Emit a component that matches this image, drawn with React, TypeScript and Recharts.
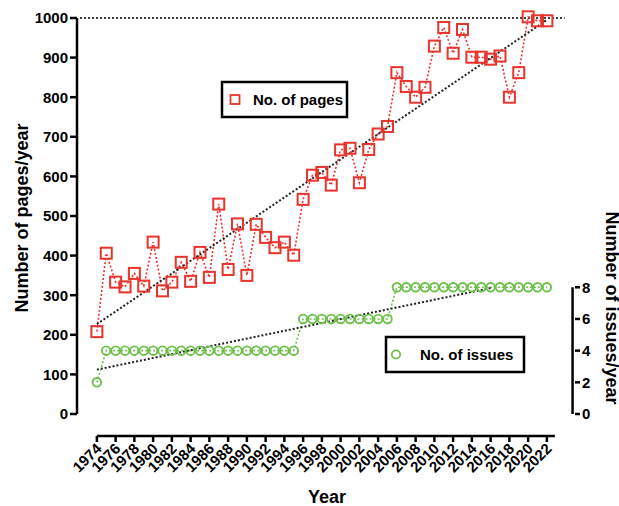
import React from 'react';
import { ComposedChart, Line, XAxis, YAxis, ReferenceLine } from 'recharts';

const years = [1974, 1975, 1976, 1977, 1978, 1979, 1980, 1981, 1982, 1983, 1984, 1985, 1986, 1987, 1988, 1989, 1990, 1991, 1992, 1993, 1994, 1995, 1996, 1997, 1998, 1999, 2000, 2001, 2002, 2003, 2004, 2005, 2006, 2007, 2008, 2009, 2010, 2011, 2012, 2013, 2014, 2015, 2016, 2017, 2018, 2019, 2020, 2021, 2022];
const pages = [208, 406, 333, 321, 355, 323, 434, 311, 333, 383, 335, 408, 345, 530, 365, 480, 350, 479, 446, 420, 434, 401, 542, 603, 610, 578, 667, 671, 584, 668, 707, 726, 862, 827, 800, 825, 929, 976, 911, 971, 901, 901, 896, 904, 800, 862, 1003, 993, 993];
const issues = [2, 4, 4, 4, 4, 4, 4, 4, 4, 4, 4, 4, 4, 4, 4, 4, 4, 4, 4, 4, 4, 4, 6, 6, 6, 6, 6, 6, 6, 6, 6, 6, 8, 8, 8, 8, 8, 8, 8, 8, 8, 8, 8, 8, 8, 8, 8, 8, 8];
const xTicks = [1974, 1976, 1978, 1980, 1982, 1984, 1986, 1988, 1990, 1992, 1994, 1996, 1998, 2000, 2002, 2004, 2006, 2008, 2010, 2012, 2014, 2016, 2018, 2020, 2022];
const pageTicks = [0, 100, 200, 300, 400, 500, 600, 700, 800, 900, 1000];
const issueTicks = [0, 2, 4, 6, 8];
const pagesTrendYears = [1974, 2022];
const pagesTrendValues = [227, 995];
const issuesTrendYears = [1974, 2016];
const issuesTrendValues = [2.8, 7.95];
const pagesLimit = 1000;

const pageRows = years.map((year, i) => ({ year, v: pages[i] }));
const issueRows = years.map((year, i) => ({ year, v: issues[i] }));
const pagesTrendRows = pagesTrendYears.map((year, i) => ({ year, v: pagesTrendValues[i] }));
const issuesTrendRows = issuesTrendYears.map((year, i) => ({ year, v: issuesTrendValues[i] }));

const FONT = '"Liberation Sans", Arial, Helvetica, sans-serif';
const RED = '#e8342c';
const GREEN = '#6cc04a';

const X_DOMAIN: [number, number] = [1971.88, 2024.74];
const LEFT_DOMAIN: [number, number] = [-55.56, 1025.25];
const RIGHT_DOMAIN: [number, number] = [-1.389, 25.63];

const SquareDot = (props: any) => {
  const { cx, cy, index } = props;
  if (cx == null || cy == null) return <g key={`sq-${index}`} />;
  return (
    <rect key={`sq-${index}`} x={cx - 5.5} y={cy - 5.5} width={11} height={11} fill="none" stroke={RED} strokeWidth={2} />
  );
};

const CircleDot = (props: any) => {
  const { cx, cy, index } = props;
  if (cx == null || cy == null) return <g key={`ci-${index}`} />;
  return <circle key={`ci-${index}`} cx={cx} cy={cy} r={4.3} fill="none" stroke={GREEN} strokeWidth={1.9} />;
};

const XTick = (props: any) => {
  const { x, y, payload } = props;
  return (
    <text
      x={x}
      y={y}
      dy={8}
      textAnchor="end"
      transform={`rotate(-45 ${x} ${y})`}
      fontSize={15}
      fontWeight="bold"
      fontFamily={FONT}
      fill="#000"
    >
      {payload.value}
    </text>
  );
};

export default function App() {
  return (
    <div style={{ position: 'absolute', left: 0, top: 0, width: 619, height: 506, background: '#fff' }}>
      <ComposedChart width={619} height={506} margin={{ top: 8, right: 14, bottom: 10, left: 17 }}>
        <XAxis
          type="number"
          dataKey="year"
          domain={X_DOMAIN}
          ticks={xTicks}
          allowDecimals={false}
          interval={0}
          axisLine={false}
          tickLine={{ stroke: '#000', strokeWidth: 2.5 }}
          tickSize={6}
          tickMargin={2}
          height={60}
          tick={<XTick />}
        />
        <YAxis
          yAxisId="left"
          type="number"
          domain={LEFT_DOMAIN}
          ticks={pageTicks}
          interval={0}
          width={60}
          axisLine={false}
          tickLine={{ stroke: '#000', strokeWidth: 2.5 }}
          tickSize={7}
          tickMargin={2}
          tick={{ fontSize: 15, fontWeight: 'bold', fill: '#000', fontFamily: FONT }}
        />
        <YAxis
          yAxisId="right"
          orientation="right"
          type="number"
          domain={RIGHT_DOMAIN}
          ticks={issueTicks}
          interval={0}
          width={30}
          axisLine={false}
          tickLine={{ stroke: '#000', strokeWidth: 2.5 }}
          tickSize={5}
          tickMargin={2}
          tick={{ fontSize: 15, fontWeight: 'bold', fill: '#000', fontFamily: FONT }}
        />
        <ReferenceLine
          yAxisId="left"
          segment={[{ x: X_DOMAIN[0], y: 0 }, { x: X_DOMAIN[0], y: 1000 }]}
          stroke="#000"
          strokeWidth={2.5}
          ifOverflow="visible"
        />
        <ReferenceLine
          yAxisId="left"
          segment={[{ x: 1974, y: LEFT_DOMAIN[0] }, { x: 2022.85, y: LEFT_DOMAIN[0] }]}
          stroke="#000"
          strokeWidth={2.5}
          ifOverflow="visible"
        />
        <ReferenceLine
          yAxisId="right"
          segment={[{ x: X_DOMAIN[1], y: 0 }, { x: X_DOMAIN[1], y: 8 }]}
          stroke="#000"
          strokeWidth={2.5}
          ifOverflow="visible"
        />
        <ReferenceLine
          yAxisId="left"
          segment={[{ x: 1972.2, y: pagesLimit }, { x: 2023.9, y: pagesLimit }]}
          stroke="#000"
          strokeWidth={1.5}
          strokeDasharray="2 2"
          ifOverflow="visible"
        />
        <Line
          yAxisId="right"
          data={issueRows}
          dataKey="v"
          type="linear"
          stroke={GREEN}
          strokeWidth={1.6}
          strokeDasharray="2 2"
          dot={<CircleDot />}
          isAnimationActive={false}
        />
        <Line
          yAxisId="left"
          data={pageRows}
          dataKey="v"
          type="linear"
          stroke={RED}
          strokeWidth={1.6}
          strokeDasharray="2 2"
          dot={<SquareDot />}
          isAnimationActive={false}
        />
        <Line
          yAxisId="left"
          data={pagesTrendRows}
          dataKey="v"
          type="linear"
          stroke="#222"
          strokeWidth={2}
          strokeDasharray="2 2"
          dot={false}
          isAnimationActive={false}
        />
        <Line
          yAxisId="right"
          data={issuesTrendRows}
          dataKey="v"
          type="linear"
          stroke="#222"
          strokeWidth={2}
          strokeDasharray="2 2"
          dot={false}
          isAnimationActive={false}
        />
      </ComposedChart>
      <svg width={619} height={506} style={{ position: 'absolute', left: 0, top: 0, pointerEvents: 'none' }}>
        <text
          transform="translate(28 218) rotate(-90)"
          textAnchor="middle"
          fontSize={18}
          fontWeight="bold"
          fontFamily={FONT}
          fill="#000"
        >
          Number of pages/year
        </text>
        <text
          transform="translate(606 308) rotate(90)"
          textAnchor="middle"
          fontSize={18}
          fontWeight="bold"
          fontFamily={FONT}
          fill="#000"
        >
          Number of issues/year
        </text>
        <text x={327} y={503} textAnchor="middle" fontSize={18} fontWeight="bold" fontFamily={FONT} fill="#000">
          Year
        </text>
        <rect x={222} y={82} width={125} height={35} fill="#fff" stroke="#000" strokeWidth={2.5} />
        <rect x={230.5} y={95} width={9} height={9} fill="none" stroke={RED} strokeWidth={1.8} />
        <text x={253} y={105} fontSize={15} fontWeight="bold" fontFamily={FONT} fill="#000">
          No. of pages
        </text>
        <rect x={386} y={337} width={138} height={35} fill="#fff" stroke="#000" strokeWidth={2.5} />
        <circle cx={396} cy={354.5} r={4.2} fill="none" stroke={GREEN} strokeWidth={1.8} />
        <text x={420} y={360} fontSize={15} fontWeight="bold" fontFamily={FONT} fill="#000">
          No. of issues
        </text>
      </svg>
    </div>
  );
}
